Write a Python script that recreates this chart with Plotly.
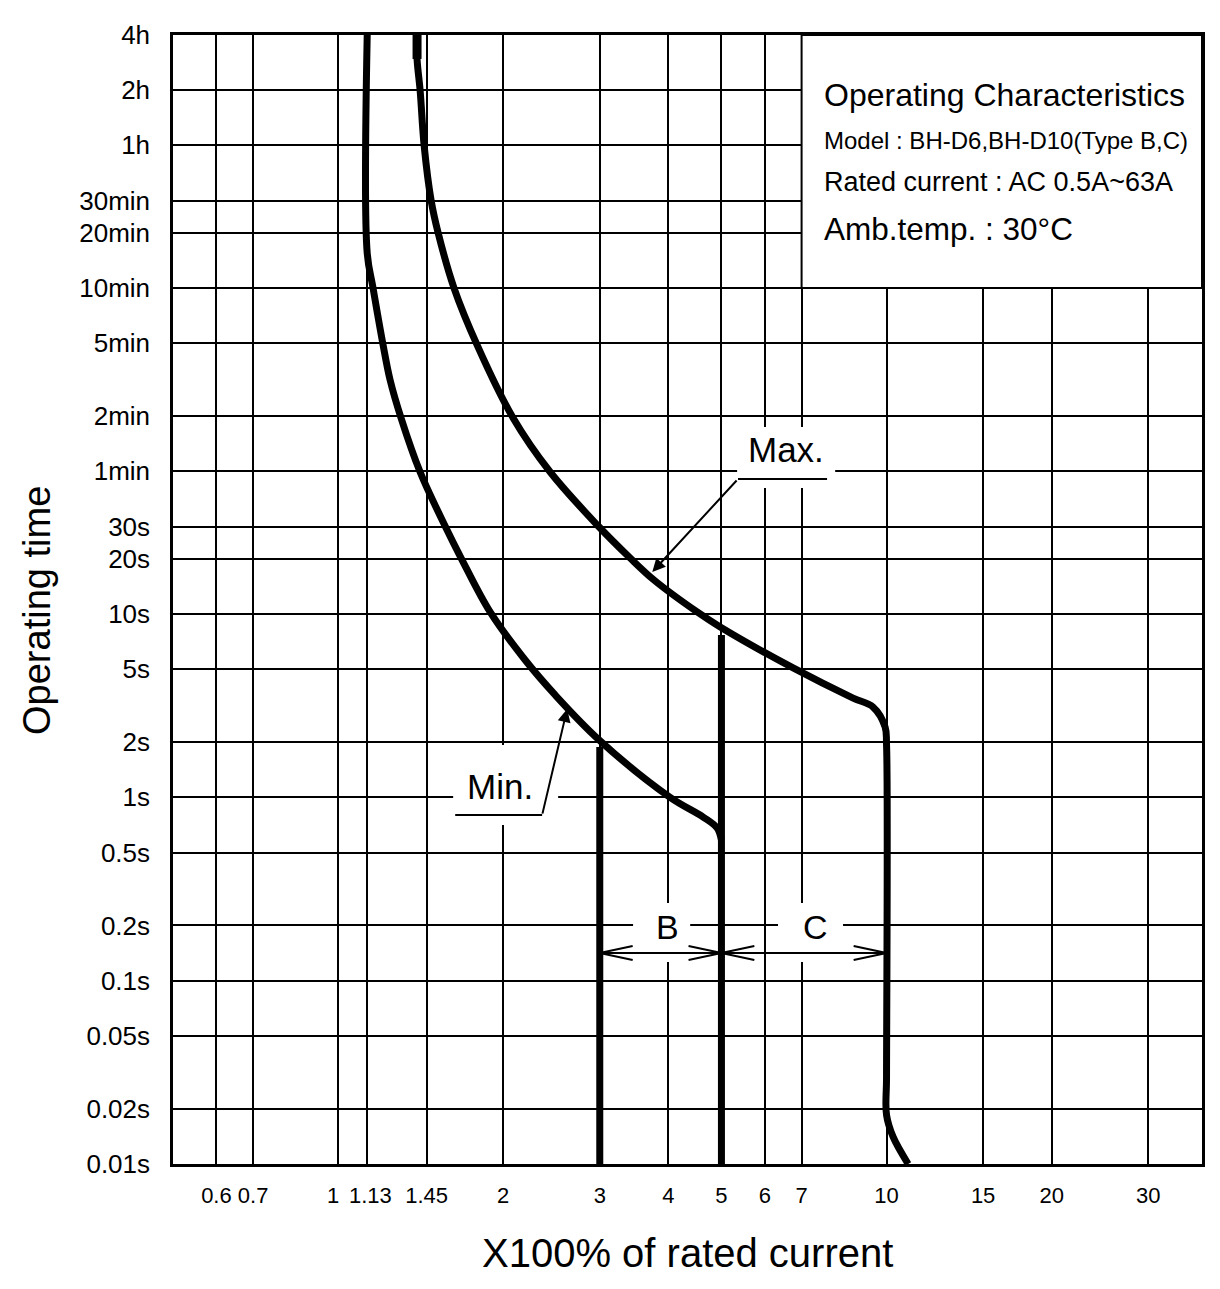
import numpy as np
import plotly.graph_objects as go

# axis ticks
x_ticks = [0.6, 0.7, 1, 1.13, 1.45, 2, 3, 4, 5, 6, 7, 10, 15, 20, 30]
x_tick_text = ['0.6', '0.7', '', '', '1.45', '2', '3', '4', '5', '6', '7',
               '10', '15', '20', '30']
# the two crowded labels near 1 are placed by hand, slightly apart
x_extra_text = ['1', '1.13']
x_extra_pos = [0.979, 1.144]
t_ticks = [14400, 7200, 3600, 1800, 1200, 600, 300, 120, 60, 30, 20, 10, 5, 2, 1,
           0.5, 0.2, 0.1, 0.05, 0.02, 0.01]
t_tick_text = ['4h', '2h', '1h', '30min', '20min', '10min', '5min', '2min', '1min',
               '30s', '20s', '10s', '5s', '2s', '1s', '0.5s', '0.2s', '0.1s',
               '0.05s', '0.02s', '0.01s']

x_range = [0.5, 37.6]
t_range = [0.01, 14400]

# Min. curve: multiple of rated current vs seconds
min_x = [1.13, 1.13, 1.158, 1.208, 1.244, 1.3025, 1.411, 1.567, 1.676, 1.893, 2.193,
         2.487, 2.99, 4.03, 4.63, 4.91, 5.0]
min_t = [14400, 931, 600, 293, 189, 117.3, 59.5, 30.2, 20.2, 10.26, 5.61,
         3.62, 2.06, 1.0, 0.781, 0.68, 0.585]

# Max. curve
max_x = [1.393, 1.393, 1.411, 1.435, 1.478, 1.522, 1.627, 1.793, 2.085, 2.436,
         2.98, 3.408, 3.769, 4.515, 4.974, 6.755, 8.69, 9.45, 9.94, 10.0, 10.0, 10.0,
         10.28, 10.95]
max_t = [14400, 10660, 7200, 3600, 1800, 1200, 600, 293, 117.3, 59.5,
         30.2, 20.2, 15.3, 10.26, 8.5, 5.08, 3.48, 3.11, 2.42, 1.93, 0.03, 0.0185,
         0.01404, 0.01]

# instantaneous trip limits (type B: 3-5, type C: 5-10)
trip_x = [3, 5]
trip_top = [1.88, 7.69]
band_edges = [3, 5, 10]
band_labels = ['B', 'C']
band_label_x = [3.98, 7.41]
band_label_t = 0.196
arrow_t = 0.1416

# leader labels
max_label = dict(text='Max.', x=6.57, t=78.5, line_x=[3.74, 5.36, 7.79],
                 line_t=[16.95, 54.5, 54.5], mask_x=[5.34, 8.06], mask_t=[48.7, 104.8])
min_label = dict(text='Min.', x=1.974, t=1.14, line_x=[2.616, 2.355, 1.635],
                 line_t=[3.03, 0.80, 0.80], mask_x=[1.621, 2.519], mask_t=[0.707, 1.93])
band_mask_x = [[3.45, 4.385], [6.34, 8.33]]
band_mask_t = [0.1264, 0.2653]

# info box
box_x = [7, x_range[1]]
box_t = [600, 14400]
box_text_x = 7.63
box_lines = ['Operating Characteristics', 'Model : BH-D6,BH-D10(Type B,C)',
             'Rated current : AC 0.5A~63A', 'Amb.temp. : 30°C']
box_line_t = [6778, 3804, 2273, 1260]
box_line_size = [32, 24, 27, 31.5]

FONT = 'Liberation Sans, Arial, sans-serif'
lg = np.log10

fig = go.Figure()

# white masks over the grid (below the curves)
mask_boxes = [(max_label['mask_x'], max_label['mask_t']),
              (min_label['mask_x'], min_label['mask_t'])]
mask_boxes += [(mx, band_mask_t) for mx in band_mask_x]
for mx, mt in mask_boxes:
    fig.add_shape(type='rect', xref='x', yref='y', x0=mx[0], x1=mx[1], y0=mt[0], y1=mt[1],
                  fillcolor='white', line_width=0, layer='between')
fig.add_shape(type='rect', xref='x', yref='y', x0=box_x[0], x1=box_x[1], y0=box_t[0],
              y1=box_t[1], fillcolor='white', line=dict(color='black', width=2),
              layer='between')

curve = dict(color='black', width=7, shape='spline', smoothing=1.0)
fig.add_trace(go.Scatter(x=min_x, y=min_t, mode='lines', line=curve, hoverinfo='skip'))
fig.add_trace(go.Scatter(x=max_x, y=max_t, mode='lines', line=curve, hoverinfo='skip'))
fig.add_trace(go.Scatter(x=max_x[:2], y=max_t[:2], mode='lines',
                         line=dict(color='black', width=9), hoverinfo='skip'))

for xv, top in zip(trip_x, trip_top):
    fig.add_trace(go.Scatter(x=[xv, xv], y=[top, t_range[0]], mode='lines',
                             line=dict(color='black', width=7), hoverinfo='skip'))

# B / C double arrows with open heads
head_dx = 10 ** 0.06
head_dt = 10 ** 0.038
ax_, ay_ = [], []
for left, right in zip(band_edges[:-1], band_edges[1:]):
    ax_ += [left, right, None]
    ay_ += [arrow_t, arrow_t, None]
    for tip, d in ((left, head_dx), (right, 1 / head_dx)):
        ax_ += [tip * d, tip, tip * d, None]
        ay_ += [arrow_t * head_dt, arrow_t, arrow_t / head_dt, None]
fig.add_trace(go.Scatter(x=ax_, y=ay_, mode='lines', line=dict(color='black', width=2),
                         hoverinfo='skip', connectgaps=False))

for lab in (max_label, min_label):
    fig.add_trace(go.Scatter(x=lab['line_x'][1:], y=lab['line_t'][1:], mode='lines',
                             line=dict(color='black', width=2), hoverinfo='skip'))
    fig.add_annotation(x=lg(lab['line_x'][0]), y=lg(lab['line_t'][0]),
                       ax=lg(lab['line_x'][1]), ay=lg(lab['line_t'][1]),
                       axref='x', ayref='y', xref='x', yref='y', text='',
                       showarrow=True, arrowhead=2, arrowsize=1.3, arrowwidth=2,
                       arrowcolor='black', standoff=0)
    fig.add_annotation(x=lg(lab['x']), y=lg(lab['t']), text=lab['text'], showarrow=False,
                       font=dict(family=FONT, size=35, color='black'))

for txt, xv in zip(band_labels, band_label_x):
    fig.add_annotation(x=lg(xv), y=lg(band_label_t), text=txt, showarrow=False,
                       font=dict(family=FONT, size=34, color='black'))

for txt, tv, sz in zip(box_lines, box_line_t, box_line_size):
    fig.add_annotation(x=lg(box_text_x), y=lg(tv), text=txt, showarrow=False,
                       xanchor='left', font=dict(family=FONT, size=sz, color='black'))

for txt, xv in zip(x_extra_text, x_extra_pos):
    fig.add_annotation(x=lg(xv), xref='x', yref='paper', y=-0.0275, text=txt,
                       showarrow=False, xanchor='center', yanchor='middle',
                       font=dict(family=FONT, size=22, color='black'))

# axis titles
fig.add_annotation(xref='paper', yref='paper', x=-0.132, y=0.49, text='Operating time',
                   textangle=-90, showarrow=False, xanchor='center', yanchor='middle',
                   font=dict(family=FONT, size=38, color='black'))
fig.add_annotation(xref='paper', yref='paper', x=0.5, y=-0.079, text='X100% of rated current',
                   showarrow=False, xanchor='center', yanchor='middle',
                   font=dict(family=FONT, size=40, color='black'))

axis_common = dict(type='log', showgrid=True, gridcolor='black', gridwidth=2,
                   showline=True, linecolor='black', linewidth=2.5, mirror=True,
                   zeroline=False, ticks='')
fig.update_xaxes(range=[lg(x_range[0]), lg(x_range[1])], tickvals=x_ticks,
                 ticktext=x_tick_text, ticklabelstandoff=10, tickangle=0,
                 tickfont=dict(family=FONT, size=22, color='black'), **axis_common)
fig.update_yaxes(range=[lg(t_range[0]), lg(t_range[1])], tickvals=t_ticks,
                 ticktext=t_tick_text, ticklabelstandoff=15,
                 tickfont=dict(family=FONT, size=26, color='black'), **axis_common)

# page body adds an 8px offset, so the figure is 8px smaller on each axis
fig.update_layout(width=1212, height=1281, showlegend=False,
                  margin=dict(l=165, r=18, t=27, b=125, autoexpand=False),
                  plot_bgcolor='white', paper_bgcolor='white')

fig.write_html('out.html')
